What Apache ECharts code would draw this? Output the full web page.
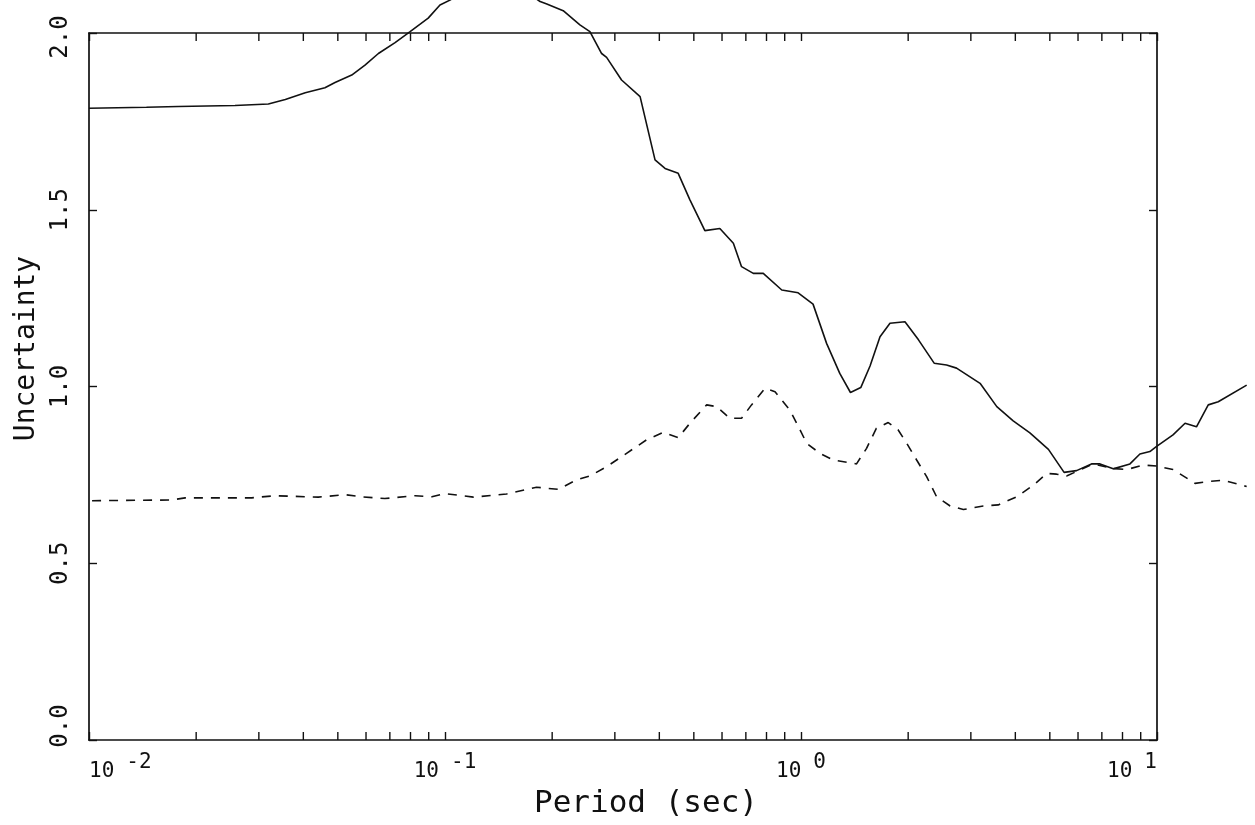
<!DOCTYPE html>
<html>
<head>
<meta charset="utf-8">
<script src="https://cdn.jsdelivr.net/npm/echarts@6/dist/echarts.min.js"></script>
<style>
html,body{margin:0;padding:0;background:#fff;}
#chart{width:1255px;height:825px;}
</style>
</head>
<body>
<div id="chart"></div>
<script>
// Period (sec) and uncertainty for the solid curve
const solidPeriod = [0.0100,0.0145,0.0178,0.0257,0.0319,0.0356,0.0405,0.0460,0.0491,0.0547,0.0596,0.0650,0.0724,0.0798,0.0897,0.0968,0.1033,0.1175,0.138,0.162,0.185,0.1932,0.2148,0.2393,0.2553,0.2754,0.2844,0.3133,0.3532,0.3890,0.4150,0.4519,0.4875,0.5370,0.5916,0.6457,0.6808,0.7345,0.7834,0.8831,0.9817,1.081,1.180,1.285,1.377,1.472,1.563,1.667,1.778,1.959,2.138,2.366,2.564,2.735,3.184,3.548,3.945,4.395,4.955,5.483,5.943,6.546,6.918,7.534,8.395,8.954,9.550,9.954,11.09,11.99,12.91,13.93,14.86,17.86];
const solidValue  = [1.787,1.790,1.792,1.795,1.799,1.812,1.831,1.845,1.860,1.881,1.909,1.942,1.973,2.004,2.042,2.079,2.093,2.130,2.155,2.130,2.089,2.082,2.063,2.023,2.004,1.942,1.931,1.867,1.820,1.641,1.617,1.603,1.528,1.441,1.447,1.405,1.339,1.320,1.320,1.273,1.265,1.233,1.122,1.037,0.983,0.997,1.058,1.141,1.179,1.183,1.132,1.066,1.061,1.052,1.009,0.943,0.903,0.869,0.822,0.757,0.762,0.781,0.781,0.767,0.781,0.809,0.816,0.830,0.863,0.896,0.886,0.948,0.957,1.004];
// Period (sec) and uncertainty for the dashed curve
const dashPeriod = [0.0102,0.01706,0.01862,0.02864,0.03327,0.04406,0.05236,0.05834,0.06776,0.08241,0.09183,0.100,0.1202,0.1489,0.1807,0.2080,0.2344,0.2553,0.2844,0.3236,0.3681,0.4102,0.4519,0.4875,0.5433,0.5794,0.6310,0.6808,0.7261,0.7925,0.8453,0.9311,0.9727,1.038,1.130,1.233,1.432,1.528,1.629,1.758,1.875,1.982,2.113,2.254,2.404,2.624,2.858,3.251,3.581,4.036,4.498,4.898,5.224,5.572,6.081,6.622,7.534,8.222,9.141,9.977,11.09,12.79,13.93,15.35,17.86];
const dashValue  = [0.677,0.679,0.685,0.685,0.691,0.687,0.694,0.688,0.683,0.691,0.688,0.697,0.687,0.696,0.715,0.709,0.736,0.747,0.773,0.811,0.849,0.870,0.855,0.896,0.948,0.943,0.910,0.910,0.948,0.995,0.985,0.933,0.896,0.839,0.811,0.792,0.781,0.825,0.882,0.898,0.877,0.839,0.792,0.745,0.688,0.662,0.652,0.662,0.665,0.688,0.721,0.754,0.752,0.747,0.764,0.781,0.768,0.765,0.778,0.775,0.765,0.726,0.731,0.735,0.717];
// Minor tick positions on the period axis
const minorTicks = [0.02,0.03,0.04,0.05,0.06,0.07,0.08,0.09,0.2,0.3,0.4,0.5,0.6,0.7,0.8,0.9,2,3,4,5,6,7,8,9];

const FONT = '"DejaVu Sans Mono", monospace';
const INK = '#111';

// Frame: periods 0.01 .. 10 ; curves continue past 10 s, so they live on an
// overlaid grid with the same scale per decade, extended to 20 s.
const LEFT = 89, TOP = 33, BOTTOM = 85, FRAME_W = 1068;
const DECADE = FRAME_W / 3;
const EXT_W = DECADE * Math.log10(20 / 0.01);

const chart = echarts.init(document.getElementById('chart'));
const axisLine = {show:true, onZero:false, lineStyle:{color:INK, width:1.7}};
const tickStyle = {show:true, inside:true, length:8, lineStyle:{color:INK, width:1.4}};
const hidden = {show:false};

chart.setOption({
  animation:false,
  backgroundColor:'#fff',
  grid:[
    {left:LEFT, top:TOP, bottom:BOTTOM, width:FRAME_W, outerBoundsMode:'none', containLabel:false},
    {left:LEFT, top:TOP, bottom:BOTTOM, width:EXT_W, outerBoundsMode:'none', containLabel:false}
  ],
  xAxis:[{
    gridIndex:0, type:'log', logBase:10, min:0.01, max:10, position:'bottom',
    axisLine:axisLine, axisTick:tickStyle, splitLine:hidden, minorTick:hidden,
    name:'Period (sec)', nameLocation:'middle', nameGap:48,
    nameTextStyle:{fontFamily:FONT, fontSize:31, color:INK, padding:[0,0,0,46]},
    axisLabel:{
      margin:12, alignMinLabel:'left', alignMaxLabel:'right',
      formatter:v => '{b|10}{s|' + Math.round(Math.log10(v)) + '}',
      rich:{
        b:{fontFamily:FONT, fontSize:21, color:INK, verticalAlign:'bottom'},
        s:{fontFamily:FONT, fontSize:21, color:INK, verticalAlign:'bottom', padding:[0,0,9,12]}
      }
    }
  },{
    gridIndex:0, type:'log', logBase:10, min:0.01, max:10, position:'top',
    axisLine:axisLine, axisTick:tickStyle, axisLabel:hidden, splitLine:hidden
  },{
    gridIndex:1, type:'log', logBase:10, min:0.01, max:20,
    axisLine:hidden, axisTick:hidden, axisLabel:hidden, splitLine:hidden
  }],
  yAxis:[{
    gridIndex:0, type:'value', min:0, max:2, interval:0.5, position:'left',
    axisLine:axisLine, axisTick:tickStyle, splitLine:hidden,
    name:'Uncertainty', nameLocation:'middle', nameGap:46,
    nameTextStyle:{fontFamily:FONT, fontSize:28, color:INK, padding:[0,0,0,76]},
    axisLabel:{rotate:90, margin:16, alignMinLabel:'center', alignMaxLabel:'center',
      formatter:v => (v === 0 ? '{lo|' : v === 2 ? '{hi|' : '{n|') + v.toFixed(1) + '}',
      rich:{
        n:{fontFamily:FONT, fontSize:24, color:INK},
        lo:{fontFamily:FONT, fontSize:24, color:INK, padding:[0,0,0,28]},
        hi:{fontFamily:FONT, fontSize:24, color:INK, padding:[0,8,0,0]}
      }}
  },{
    gridIndex:0, type:'value', min:0, max:2, interval:0.5, position:'right',
    axisLine:axisLine, axisTick:tickStyle, axisLabel:hidden, splitLine:hidden
  },{
    gridIndex:1, type:'value', min:0, max:2,
    axisLine:hidden, axisTick:hidden, axisLabel:hidden, splitLine:hidden
  }],
  series:[{
    type:'line', name:'solid', xAxisIndex:2, yAxisIndex:2,
    data:solidPeriod.map((p,i)=>[p, solidValue[i]]),
    showSymbol:false, clip:false, smooth:false,
    lineStyle:{color:INK, width:1.6, type:'solid'}
  },{
    type:'line', name:'dashed', xAxisIndex:2, yAxisIndex:2,
    data:dashPeriod.map((p,i)=>[p, dashValue[i]]),
    showSymbol:false, clip:false, smooth:false,
    lineStyle:{color:INK, width:1.6, type:[9,8]}
  },{
    type:'custom', name:'minorTicks', silent:true, clip:false,
    xAxisIndex:0, yAxisIndex:0,
    data:minorTicks.map(v=>[v, 0]),
    encode:{x:0, y:1},
    renderItem:(params, api) => {
      const v = api.value(0);
      const b = api.coord([v, 0]);
      const t = api.coord([v, 2]);
      const st = {stroke:INK, lineWidth:1.4};
      return {type:'group', children:[
        {type:'line', shape:{x1:b[0], y1:b[1], x2:b[0], y2:b[1]-8}, style:st},
        {type:'line', shape:{x1:t[0], y1:t[1], x2:t[0], y2:t[1]+8}, style:st}
      ]};
    }
  }]
});
</script>
</body>
</html>
